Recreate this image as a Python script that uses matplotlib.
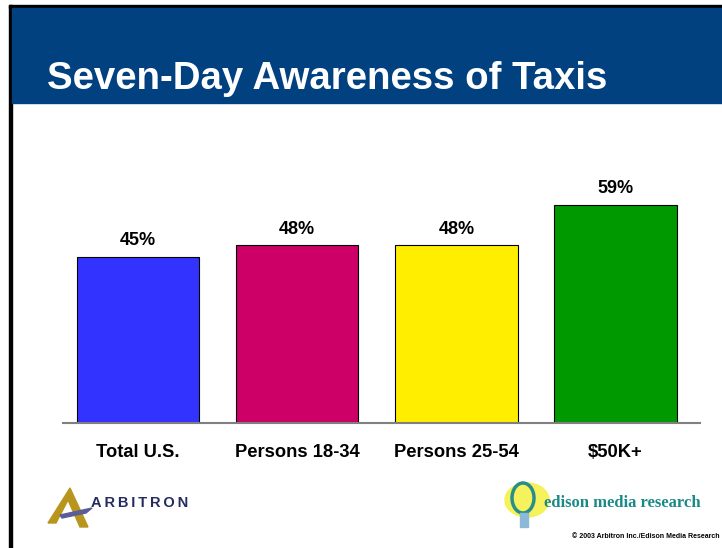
import matplotlib.pyplot as plt
from matplotlib.patches import Rectangle, Polygon, Ellipse

plt.rcParams["font.family"] = ["Liberation Sans", "DejaVu Sans"]

categories = ["Total U.S.", "Persons 18-34", "Persons 25-54", "$50K+"]
awareness = [45, 48, 48, 59]
bar_colors = ["#3333FF", "#CC0066", "#FFEE00", "#009900"]

W, H = 722, 548
fig = plt.figure(figsize=(W / 100, H / 100), dpi=100)
fig.patch.set_facecolor("white")

# slide frame: black edge on top/left, blue title band
bg = fig.add_axes([0, 0, 1, 1])
bg.set_xlim(0, W)
bg.set_ylim(H, 0)
bg.axis("off")
bg.add_patch(Rectangle((9, 5), W, 3, color="black"))
bg.add_patch(Rectangle((9, 5), 3, H, color="black"))
bg.add_patch(Rectangle((12, 8), W, 95, color="#02417F"))
bg.text(47, 79, "Seven-Day Awareness of Taxis", color="white", fontsize=27.6,
        fontweight="bold", va="center", ha="left")

# bar chart
base_px, top_px = 423, 164
ax = fig.add_axes([63 / W, (H - base_px) / H, (700 - 63) / W, (base_px - top_px) / H])
x = range(len(categories))
ax.bar(x, awareness, width=0.77, color=bar_colors, edgecolor="black", linewidth=0.8,
       zorder=2)
for xi, v in zip(x, awareness):
    ax.text(xi, v + 2.0, f"{v}%", ha="center", va="bottom", fontsize=13,
            fontweight="bold")
ax.set_xlim(-0.47, 3.53)
ax.set_ylim(0, 70)
ax.set_xticks(list(x))
ax.set_xticklabels(categories, fontsize=13.2, fontweight="bold")
ax.tick_params(axis="x", length=0, pad=15)
ax.set_yticks([])
for side in ["top", "right", "left"]:
    ax.spines[side].set_visible(False)
ax.spines["bottom"].set_color("#808080")
ax.spines["bottom"].set_linewidth(1.5)
ax.patch.set_alpha(0)

# Arbitron logo
bg.add_patch(Polygon([[48, 523], [70, 488], [88, 527], [80, 527], [68, 500], [56, 523]],
                     closed=True, color="#B8961E"))
bg.add_patch(Polygon([[60, 515], [92, 508], [86, 513], [62, 518]], closed=True,
                     color="#5B5E95"))
bg.text(91, 503, "\u2009".join("ARBITRON"), color="#262B5E", fontsize=10.5,
        va="center", ha="left", fontweight="semibold")

# Edison Media Research logo
bg.add_patch(Ellipse((527, 500), 44, 34, color="#F5F040", alpha=0.85))
bg.add_patch(Ellipse((523, 498), 22, 30, fill=False, edgecolor="#2A8E88", linewidth=2.5))
bg.add_patch(Rectangle((520, 513), 8, 14, color="#8EB8D8"))
bg.text(544, 503, "edison media research", color="#1A8A88", fontsize=12,
        fontweight="bold", va="center", ha="left", family=["Liberation Serif"])
bg.text(720, 537, "\u00a9 2003 Arbitron Inc./Edison Media Research", fontsize=5.0,
        fontweight="bold", va="center", ha="right")

fig.savefig("out.png", dpi=100)
